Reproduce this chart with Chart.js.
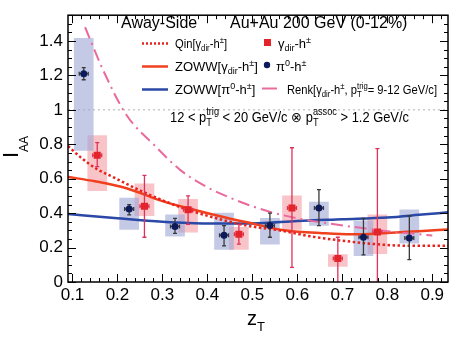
<!DOCTYPE html>
<html><head><meta charset="utf-8">
<script src="https://cdn.jsdelivr.net/npm/chart.js@4/dist/chart.umd.min.js"></script>
<style>html,body{margin:0;padding:0;background:#fff;}</style>
</head><body>
<canvas id="c" width="472" height="340"></canvas>
<script>
// ---- data ----
const xTickValues = [0.1,0.2,0.3,0.4,0.5,0.6,0.7,0.8,0.9];
const xTickLabels = ['0.1','0.2','0.3','0.4','0.5','0.6','0.7','0.8','0.9'];
const yTickValues = [0,0.2,0.4,0.6,0.8,1,1.2,1.4];
const yTickLabels = ['0','0.2','0.4','0.6','0.8','1','1.2','1.4'];

const pi0X     = [0.125,0.226,0.328,0.437,0.539,0.648,0.747,0.849];
const pi0Y     = [1.21, 0.424,0.323,0.272,0.328,0.43, 0.26, 0.255];
const pi0StatLo= [1.175,0.39, 0.283,0.21, 0.26, 0.328,0.158,0.13];
const pi0StatHi= [1.245,0.45, 0.37, 0.328,0.40, 0.537,0.37, 0.385];
const pi0SysLo = [0.765,0.306,0.266,0.19, 0.22, 0.328,0.153,0.226];
const pi0SysHi = [1.415,0.487,0.39, 0.40, 0.37, 0.464,0.356,0.42];

const gamX     = [0.155,0.26, 0.357,0.47, 0.588,0.69, 0.778];
const gamY     = [0.736,0.44, 0.42, 0.277,0.43, 0.137,0.29];
const gamStatLo= [0.67, 0.26, 0.335,0.22, 0.085,-0.3, -0.3];
const gamStatHi= [0.81, 0.62, 0.50, 0.335,0.78, 0.26, 0.775];
const gamSysLo = [0.53, 0.385,0.29, 0.19, 0.305,0.09, 0.165];
const gamSysHi = [0.85, 0.57, 0.48, 0.317,0.50, 0.16, 0.39];
const xErrHalf = 0.01;

const qinX  = [0.09,0.12,0.155,0.19,0.22,0.26,0.30,0.35,0.40,0.45,0.50,0.56,0.63,0.70,0.80,0.87,0.935];
const qinY  = [0.79,0.72,0.655,0.61,0.57,0.52,0.475,0.425,0.385,0.35,0.322,0.30,0.265,0.24,0.215,0.21,0.21];
const zowwGX = [0.09,0.15,0.22,0.30,0.37,0.44,0.50,0.57,0.65,0.72,0.80,0.87,0.935];
const zowwGY = [0.61,0.585,0.545,0.47,0.42,0.375,0.34,0.30,0.285,0.277,0.285,0.295,0.305];
const zowwPX = [0.09,0.2,0.3,0.4,0.5,0.6,0.7,0.8,0.87,0.935];
const zowwPY = [0.395,0.37,0.35,0.34,0.34,0.355,0.365,0.375,0.39,0.405];
const renkX = [0.128,0.17,0.22,0.28,0.34,0.40,0.45,0.50,0.55,0.60,0.67,0.74,0.80,0.86,0.90];
const renkY = [1.48,1.22,0.97,0.80,0.65,0.55,0.49,0.44,0.40,0.37,0.34,0.315,0.295,0.28,0.27];

// ---- styles ----
const FONT = '"Liberation Sans", Arial, Helvetica, sans-serif';
const C_BLUE_PT = '#0c1a5a', C_RED_PT = '#e3242b';
const C_BLUE_BOX = 'rgba(160,168,215,0.62)', C_RED_BOX = 'rgba(246,160,166,0.62)';
const C_BLUE_ERR = '#3a3a3a', C_RED_ERR = '#e0315a';
const C_QIN = '#e8231e', C_ZG = '#f0401e', C_ZP = '#2a48a6', C_RENK = '#ea6a9e';

const xy = (xs, ys) => xs.map((x,i)=>({x, y: ys[i]}));
const box = (xs, lo, hi) => xs.map((x,i)=>({x, y:[lo[i], hi[i]]}));

function layoutRich(ctx, parts, baseSize, draw) {
  let cx = 0, stackW = 0;
  for (const p of parts) {
    const size = p.s || baseSize;
    ctx.font = size + 'px ' + FONT;
    const w = ctx.measureText(p.t).width;
    if (draw) ctx.fillText(p.t, cx, (p.dy||0));
    if (p.stackStart) { stackW = w; continue; }
    if (p.stackEnd) { cx += Math.max(w, stackW); continue; }
    cx += w;
  }
  return cx;
}
function drawRich(ctx, x, y, parts, baseSize, color, fitW) {
  ctx.save();
  ctx.fillStyle = color || '#000';
  ctx.textBaseline = 'alphabetic';
  ctx.textAlign = 'left';
  ctx.translate(x, y);
  if (fitW) { const w = layoutRich(ctx, parts, baseSize, false); ctx.scale(fitW / w, 1); }
  layoutRich(ctx, parts, baseSize, true);
  ctx.restore();
}

function drawErrors(chart, xs, ys, lo, hi, color) {
  const ctx = chart.ctx, xs_ = chart.scales.x, ys_ = chart.scales.y, a = chart.chartArea;
  ctx.save();
  ctx.beginPath(); ctx.rect(a.left, a.top, a.right-a.left, a.bottom-a.top); ctx.clip();
  ctx.strokeStyle = color; ctx.lineWidth = 1.3;
  for (let i=0;i<xs.length;i++){
    const px = xs_.getPixelForValue(xs[i]);
    const py = ys_.getPixelForValue(ys[i]);
    const pl = ys_.getPixelForValue(lo[i]), ph = ys_.getPixelForValue(hi[i]);
    const xl = xs_.getPixelForValue(xs[i]-xErrHalf), xr = xs_.getPixelForValue(xs[i]+xErrHalf);
    ctx.beginPath();
    ctx.moveTo(px, pl); ctx.lineTo(px, ph);
    ctx.moveTo(px-2, pl); ctx.lineTo(px+2, pl);
    ctx.moveTo(px-2, ph); ctx.lineTo(px+2, ph);
    ctx.moveTo(xl, py); ctx.lineTo(xr, py);
    ctx.moveTo(xl, py-2); ctx.lineTo(xl, py+2);
    ctx.moveTo(xr, py-2); ctx.lineTo(xr, py+2);
    ctx.stroke();
  }
  ctx.restore();
}

const decor = {
  id: 'decor',
  beforeDatasetsDraw(chart) {
    const ctx = chart.ctx, a = chart.chartArea, y1 = chart.scales.y.getPixelForValue(1);
    ctx.save();
    ctx.strokeStyle = '#b0b0b0'; ctx.lineWidth = 1; ctx.setLineDash([2,3]);
    ctx.beginPath(); ctx.moveTo(a.left, y1); ctx.lineTo(a.right, y1); ctx.stroke();
    ctx.restore();
  },
  beforeDatasetDraw(chart, args) {
    if (args.index === 6) drawErrors(chart, pi0X, pi0Y, pi0StatLo, pi0StatHi, C_BLUE_ERR);
    if (args.index === 7) drawErrors(chart, gamX, gamY, gamStatLo, gamStatHi, C_RED_ERR);
  },
  afterDraw(chart) {
    const ctx = chart.ctx, a = chart.chartArea, sx = chart.scales.x, sy = chart.scales.y;
    ctx.save();
    // frame
    ctx.strokeStyle = '#000'; ctx.lineWidth = 1.5;
    ctx.strokeRect(a.left, a.top, a.right-a.left, a.bottom-a.top);
    ctx.lineWidth = 1;
    ctx.beginPath();
    for (let v = 0.1; v <= 0.9301; v += 0.02) {
      const major = Math.abs(v*10 - Math.round(v*10)) < 1e-6;
      const len = major ? 8 : 4;
      const px = Math.round(sx.getPixelForValue(v)) + 0.5;
      ctx.moveTo(px, a.bottom); ctx.lineTo(px, a.bottom - len);
      ctx.moveTo(px, a.top); ctx.lineTo(px, a.top + len);
    }
    for (let v = 0; v <= 1.5501; v += 0.05) {
      const major = Math.abs(v*5 - Math.round(v*5)) < 1e-6;
      const len = major ? 8 : 4;
      const py = Math.round(sy.getPixelForValue(v)) + 0.5;
      ctx.moveTo(a.left, py); ctx.lineTo(a.left + len, py);
      ctx.moveTo(a.right, py); ctx.lineTo(a.right - len, py);
    }
    ctx.stroke();

    // header
    ctx.fillStyle = '#000';
    ctx.font = '16px ' + FONT;
    ctx.textBaseline = 'alphabetic';
    ctx.fillText('Away-Side', 121, 28);
    ctx.fillText('Au+Au 200 GeV (0-12%)', 230, 28);

    // legend samples
    ctx.lineWidth = 2.5;
    ctx.strokeStyle = C_QIN; ctx.setLineDash([2,2]);
    ctx.beginPath(); ctx.moveTo(142, 43.5); ctx.lineTo(168, 43.5); ctx.stroke();
    ctx.setLineDash([]);
    ctx.strokeStyle = C_ZG; ctx.beginPath(); ctx.moveTo(142, 66.5); ctx.lineTo(168, 66.5); ctx.stroke();
    ctx.strokeStyle = C_ZP; ctx.beginPath(); ctx.moveTo(142, 89.5); ctx.lineTo(168, 89.5); ctx.stroke();
    ctx.strokeStyle = C_RENK; ctx.lineWidth = 2;
    ctx.beginPath(); ctx.moveTo(262, 88.5); ctx.lineTo(277, 88.5); ctx.stroke();
    ctx.fillStyle = C_RED_PT; ctx.fillRect(264, 39, 7, 7);
    ctx.fillStyle = C_BLUE_PT; ctx.beginPath(); ctx.arc(267, 65, 3.2, 0, Math.PI*2); ctx.fill();

    const S = 13, sub = {s:9, dy:3}, sup = {s:9, dy:-5};
    drawRich(ctx, 175, 48, [{t:'Qin[γ'},{t:'dir',...sub},{t:'-h'},{t:'±',...sup},{t:']'}], S, null, 52);
    drawRich(ctx, 175, 71, [{t:'ZOWW[γ'},{t:'dir',...sub},{t:'-h'},{t:'±',...sup},{t:']'}], S);
    drawRich(ctx, 175, 94, [{t:'ZOWW[π'},{t:'0',...sup},{t:'-h'},{t:'±',...sup},{t:']'}], S);
    drawRich(ctx, 278, 48, [{t:'γ'},{t:'dir',...sub},{t:'-h'},{t:'±',...sup}], S);
    drawRich(ctx, 276, 71, [{t:'π'},{t:'0',...sup},{t:'-h'},{t:'±',...sup}], S);
    drawRich(ctx, 287, 94, [{t:'Renk[γ'},{t:'dir',...sub},{t:'-h'},{t:'±',...sup},{t:', p'},
      {t:'T',s:9,dy:3,stackStart:true},{t:'trig',s:9,dy:-5,stackEnd:true},{t:'= 9-12 GeV/c]'}], S, null, 150);
    drawRich(ctx, 170, 122, [{t:'12 < p'},{t:'T',s:10,dy:4,stackStart:true},{t:'trig',s:10,dy:-7,stackEnd:true},
      {t:' < 20 GeV/c ⊗ p'},{t:'T',s:10,dy:4,stackStart:true},{t:'assoc',s:10,dy:-7,stackEnd:true},{t:' > 1.2 GeV/c'}], 14, null, 239);

    // axis titles
    drawRich(ctx, 247, 325, [{t:'z'},{t:'T',s:13,dy:6}], 20);
    ctx.save();
    ctx.translate(18, 158); ctx.rotate(-Math.PI/2);
    drawRich(ctx, 0, 0, [{t:'I'},{t:'AA',s:12,dy:10}], 22);
    ctx.restore();
    ctx.restore();
  }
};

new Chart(document.getElementById('c'), {
  type: 'scatter',
  data: { datasets: [
    {type:'line', data: xy(renkX, renkY), borderColor: C_RENK, borderWidth: 2, borderDash:[12,5,2,5], pointRadius:0, tension:0.4, cubicInterpolationMode:'monotone', order:5},
    {type:'line', data: xy(qinX, qinY), borderColor: C_QIN, borderWidth: 2.5, borderDash:[2.5,2.5], pointRadius:0, tension:0.4, cubicInterpolationMode:'monotone', order:5},
    {type:'line', data: xy(zowwGX, zowwGY), borderColor: C_ZG, borderWidth: 2.5, pointRadius:0, tension:0.4, cubicInterpolationMode:'monotone', order:5},
    {type:'line', data: xy(zowwPX, zowwPY), borderColor: C_ZP, borderWidth: 2.5, pointRadius:0, tension:0.4, cubicInterpolationMode:'monotone', order:5},
    {type:'bar', data: box(pi0X, pi0SysLo, pi0SysHi), backgroundColor: C_BLUE_BOX, borderWidth:0, barThickness:19, grouped:false, order:6},
    {type:'bar', data: box(gamX, gamSysLo, gamSysHi), backgroundColor: C_RED_BOX, borderWidth:0, barThickness:19, grouped:false, order:6},
    {type:'scatter', data: xy(pi0X, pi0Y), pointStyle:'circle', pointRadius:3.5, backgroundColor:C_BLUE_PT, borderColor:C_BLUE_PT, borderWidth:0, order:1},
    {type:'scatter', data: xy(gamX, gamY), pointStyle:'rect', pointRadius:5, backgroundColor:C_RED_PT, borderColor:C_RED_PT, borderWidth:0, order:0}
  ]},
  options: {
    responsive:false, animation:false,
    layout: { padding: {top:8, right:24, left:0, bottom:0} },
    plugins: { legend:{display:false}, tooltip:{enabled:false} },
    scales: {
      x: { type:'linear', min:0.09, max:0.935, offset:false,
        afterBuildTicks: s => { s.ticks = xTickValues.map(v=>({value:v})); },
        afterFit: s => { s.height = 58; },
        grid:{display:false, drawTicks:false}, border:{display:false},
        ticks:{ autoSkip:false, maxRotation:0, padding:3, color:'#000', font:{family:FONT, size:17},
          callback: (v) => xTickLabels[xTickValues.findIndex(t=>Math.abs(t-v)<1e-6)] } },
      y: { type:'linear', min:0, max:1.55,
        afterBuildTicks: s => { s.ticks = yTickValues.map(v=>({value:v})); },
        afterFit: s => { s.width = 68; },
        grid:{display:false, drawTicks:false}, border:{display:false},
        ticks:{ autoSkip:false, padding:5, color:'#000', font:{family:FONT, size:17},
          callback: (v) => yTickLabels[yTickValues.findIndex(t=>Math.abs(t-v)<1e-6)] } }
    }
  },
  plugins: [decor]
});
</script>
</body></html>
